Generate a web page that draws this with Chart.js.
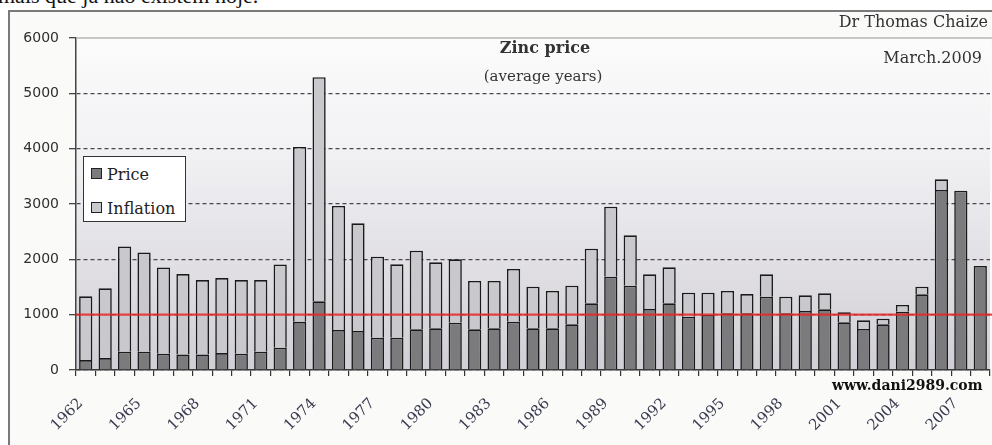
<!DOCTYPE html>
<html><head><meta charset="utf-8">
<script src="https://cdn.jsdelivr.net/npm/chart.js@4/dist/chart.umd.min.js"></script>
<style>
html,body{margin:0;padding:0;background:#fff;width:992px;height:445px;overflow:hidden;position:relative;}
#frame{position:absolute;left:8px;top:10px;width:1000px;height:450px;border-left:2px solid #7a7a7a;border-top:2px solid #7a7a7a;background:#fafbf8;}
#c{position:absolute;left:0;top:0;}
.t{position:absolute;white-space:nowrap;font-family:'DejaVu Serif',serif;line-height:1;color:#222;}
#legend{position:absolute;left:83px;top:156px;width:101px;height:64px;background:#fff;border:1.5px solid #333;}
.mk{position:absolute;left:7px;width:9px;height:9px;border:1px solid #222;}
</style></head>
<body>
<div class="t" style="font-family:'Liberation Serif',serif;font-size:22px;left:-2px;top:-15px;color:#111;">mais que já não existem hoje.</div>
<div id="frame"></div>
<canvas id="c" width="992" height="445"></canvas>
<div class="t" style="font-size:16px;font-weight:bold;left:545px;top:39.5px;transform:translateX(-50%);color:#333;">Zinc price</div>
<div class="t" style="font-size:15px;left:543px;top:68.8px;transform:translateX(-50%);color:#333;">(average years)</div>
<div class="t" style="font-size:16px;right:4px;top:13.5px;color:#333;">Dr Thomas Chaize</div>
<div class="t" style="font-size:16px;right:10px;top:50px;color:#333;">March.2009</div>
<div class="t" style="font-size:14px;font-weight:bold;left:832px;top:378px;color:#111;">www.dani2989.com</div>
<div id="legend"></div>
<script>
const years = ['1962','1963','1964','1965','1966','1967','1968','1969','1970','1971','1972','1973','1974',
  '1975','1976','1977','1978','1979','1980','1981','1982','1983','1984','1985','1986',
  '1987','1988','1989','1990','1991','1992','1993','1994','1995','1996','1997','1998',
  '1999','2000','2001','2002','2003','2004','2005','2006','2007','2008'];
const priceValues = [180,216,330,330,294,282,282,306,294,330,402,870,1242,
  723,705,584,584,735,753,855,735,753,873,753,753,
  825,1205,1687,1524,1102,1205,964,995,1024,1024,1325,1024,
  1066,1096,861,741,825,1054,1367,3253,3241,1880];
const inflationValues = [1152,1260,1902,1794,1560,1452,1344,1356,1332,1296,1506,3161,4049,
  2241,1946,1464,1326,1422,1193,1145,873,855,952,753,675,
  699,988,1265,910,627,650,434,403,404,349,404,301,
  283,290,181,157,103,121,139,193,0,0];
const xTickLabels = ['1962','1965','1968','1971','1974','1977','1980','1983','1986','1989','1992','1995','1998','2001','2004','2007'];
const yTickValues = [0,1000,2000,3000,4000,5000,6000];
const referenceLevel = 1000;
const seriesNames = ['Price','Inflation'];
const seriesColors = ['#7b7a7d','#c9c8cc'];

const bgPlugin = {
  id:'bg',
  beforeDraw(chart){
    const {ctx, chartArea:a} = chart;
    const g = ctx.createLinearGradient(0,a.top,0,a.bottom);
    g.addColorStop(0,'#fcfcfc'); g.addColorStop(0.35,'#f1f0f3'); g.addColorStop(1,'#d1cfd5');
    ctx.save(); ctx.fillStyle = g; ctx.fillRect(a.left,a.top,a.right-a.left,a.bottom-a.top); ctx.restore();
  }
};
const overlayPlugin = {
  id:'overlay',
  afterDatasetsDraw(chart){
    const {ctx, chartArea:a, scales} = chart;
    const y = scales.y.getPixelForValue(referenceLevel);
    ctx.save();
    ctx.strokeStyle = 'rgba(232,40,40,0.85)'; ctx.lineWidth = 2.2;
    ctx.beginPath(); ctx.moveTo(a.left, y); ctx.lineTo(a.right+4, y); ctx.stroke();
    ctx.strokeStyle = '#b6b6b6'; ctx.lineWidth = 1.5;
    ctx.beginPath(); ctx.moveTo(a.left, a.top); ctx.lineTo(a.right+4, a.top); ctx.stroke();
    ctx.restore();
  }
};

const chart = new Chart(document.getElementById('c').getContext('2d'), {
  type:'bar',
  data:{labels:years, datasets:[
    {label:seriesNames[0], data:priceValues, backgroundColor:seriesColors[0], borderColor:'#1a1a1a', borderWidth:1.6, categoryPercentage:1, barPercentage:0.68},
    {label:seriesNames[1], data:inflationValues, backgroundColor:seriesColors[1], borderColor:'#1a1a1a', borderWidth:1.6, categoryPercentage:1, barPercentage:0.68}
  ]},
  options:{
    responsive:false, animation:false,
    layout:{padding:{left:8, top:38, right:2, bottom:0}},
    plugins:{legend:{display:false}, tooltip:{enabled:false}},
    scales:{
      x:{stacked:true, offset:true,
        grid:{offset:true, drawOnChartArea:false, drawTicks:true, tickLength:6, tickColor:'#333', lineWidth:1.2},
        border:{display:true, color:'#3a3a3a', width:1.5},
        ticks:{autoSkip:false, maxRotation:45, minRotation:45, padding:19, labelOffset:-5,
          font:{family:"'DejaVu Serif', serif", size:15}, color:'#3a3a50',
          callback:function(v){const l=this.getLabelForValue(v); return xTickLabels.includes(l)?l:'';}},
        afterFit(s){s.height = 75; s.paddingLeft = 0; s.paddingRight = 0;}},
      y:{stacked:true, min:0, max:6000,
        afterBuildTicks(s){s.ticks = yTickValues.map(v=>({value:v}));},
        ticks:{padding:10, font:{family:"'DejaVu Sans', sans-serif", size:14}, color:'#2e2e2e',
          callback:v => String(v)},
        grid:{color:c => (c.tick && c.tick.value===6000) ? 'rgba(0,0,0,0)' : '#4d4650', lineWidth:1.3, tickLength:7, tickColor:'#444', tickBorderDash:[]},
        border:{display:true, color:'#444', width:1.5, dash:[4,3]},
        afterFit(s){s.width = 68; s.paddingTop = 0; s.paddingBottom = 0;}}
    }
  },
  plugins:[bgPlugin, overlayPlugin]
});

const legend = document.getElementById('legend');
const tops = [11, 45];
chart.data.datasets.forEach((d,i)=>{
  const m = document.createElement('div'); m.className='mk';
  m.style.top = tops[i]+'px'; m.style.background = d.backgroundColor; legend.appendChild(m);
  const t = document.createElement('div'); t.className='t';
  t.style.cssText = 'font-size:16px;left:23px;top:'+(tops[i]-1.5)+'px;color:#222;';
  t.textContent = d.label; legend.appendChild(t);
});
</script>
</body></html>
